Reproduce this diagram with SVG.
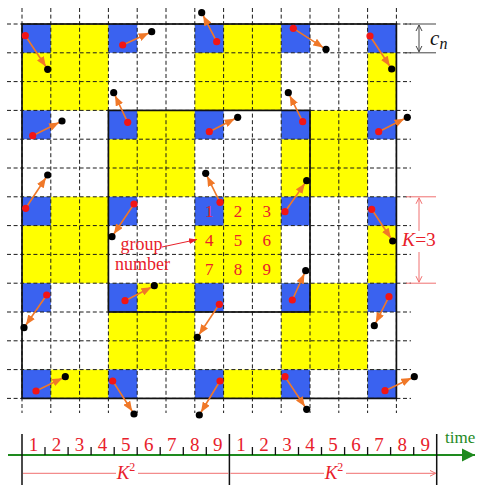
<svg xmlns="http://www.w3.org/2000/svg" width="483" height="485" viewBox="0 0 483 485">
<style>
.y{fill:#FFFF00}
.b{fill:#3A62F0}
.grid{fill:none;stroke:#1a1a1a;stroke-width:1;stroke-dasharray:4 2.6}
.frame{fill:none;stroke:#111;stroke-width:1.7}
.arr{stroke:#F07828;stroke-width:1.6;fill:none;marker-end:url(#oh)}
.rd{fill:#F21515}
.bk{fill:#000}
.rt{font-family:"Liberation Serif",serif;fill:#E8202A}
.num{font-size:17px;text-anchor:middle}
.ax{font-size:19px;text-anchor:middle}
.dimr{stroke:#F07070;stroke-width:1;fill:none}
.dimg{stroke:#444;stroke-width:1;fill:none}
.tick{stroke:#111;stroke-width:1.3}
</style>
<defs>
<marker id="oh" markerUnits="userSpaceOnUse" markerWidth="14" markerHeight="8" refX="13.3" refY="4" orient="auto"><path d="M0,0 L10,4 L0,8 z" fill="#F07828"/></marker>
<marker id="rh" markerUnits="userSpaceOnUse" markerWidth="8" markerHeight="8" refX="6" refY="4" orient="auto-start-reverse"><path d="M0,1 L6,4 L0,7" fill="none" stroke="#F07070" stroke-width="1"/></marker>
<marker id="gh" markerUnits="userSpaceOnUse" markerWidth="8" markerHeight="8" refX="6" refY="4" orient="auto-start-reverse"><path d="M0,1 L6,4 L0,7" fill="none" stroke="#444" stroke-width="1"/></marker>
<marker id="rs" markerUnits="userSpaceOnUse" markerWidth="10" markerHeight="8" refX="8" refY="4" orient="auto"><path d="M0,1 L8,4 L0,7 z" fill="#E8202A"/></marker>
<marker id="gr" markerUnits="userSpaceOnUse" markerWidth="15" markerHeight="14" refX="13" refY="7" orient="auto"><path d="M0,0.5 L13,7 L0,13.5 z" fill="#1E8A1E"/></marker>
</defs>

<g id="cells">
<rect class="y" x="22" y="24" width="86.4" height="86.4"/>
<rect class="y" x="194.8" y="24" width="86.4" height="86.4"/>
<rect class="y" x="367.6" y="24" width="28.8" height="86.4"/>
<rect class="y" x="108.4" y="110.4" width="86.4" height="86.4"/>
<rect class="y" x="281.2" y="110.4" width="86.4" height="86.4"/>
<rect class="y" x="22" y="196.8" width="86.4" height="86.4"/>
<rect class="y" x="194.8" y="196.8" width="86.4" height="86.4"/>
<rect class="y" x="367.6" y="196.8" width="28.8" height="86.4"/>
<rect class="y" x="108.4" y="283.2" width="86.4" height="86.4"/>
<rect class="y" x="281.2" y="283.2" width="86.4" height="86.4"/>
<rect class="y" x="22" y="369.6" width="86.4" height="28.8"/>
<rect class="y" x="194.8" y="369.6" width="86.4" height="28.8"/>
<rect class="y" x="367.6" y="369.6" width="28.8" height="28.8"/>
<rect class="b" x="22" y="24" width="28.8" height="28.8"/>
<rect class="b" x="108.4" y="24" width="28.8" height="28.8"/>
<rect class="b" x="194.8" y="24" width="28.8" height="28.8"/>
<rect class="b" x="281.2" y="24" width="28.8" height="28.8"/>
<rect class="b" x="367.6" y="24" width="28.8" height="28.8"/>
<rect class="b" x="22" y="110.4" width="28.8" height="28.8"/>
<rect class="b" x="108.4" y="110.4" width="28.8" height="28.8"/>
<rect class="b" x="194.8" y="110.4" width="28.8" height="28.8"/>
<rect class="b" x="281.2" y="110.4" width="28.8" height="28.8"/>
<rect class="b" x="367.6" y="110.4" width="28.8" height="28.8"/>
<rect class="b" x="22" y="196.8" width="28.8" height="28.8"/>
<rect class="b" x="108.4" y="196.8" width="28.8" height="28.8"/>
<rect class="b" x="194.8" y="196.8" width="28.8" height="28.8"/>
<rect class="b" x="281.2" y="196.8" width="28.8" height="28.8"/>
<rect class="b" x="367.6" y="196.8" width="28.8" height="28.8"/>
<rect class="b" x="22" y="283.2" width="28.8" height="28.8"/>
<rect class="b" x="108.4" y="283.2" width="28.8" height="28.8"/>
<rect class="b" x="194.8" y="283.2" width="28.8" height="28.8"/>
<rect class="b" x="281.2" y="283.2" width="28.8" height="28.8"/>
<rect class="b" x="367.6" y="283.2" width="28.8" height="28.8"/>
<rect class="b" x="22" y="369.6" width="28.8" height="28.8"/>
<rect class="b" x="108.4" y="369.6" width="28.8" height="28.8"/>
<rect class="b" x="194.8" y="369.6" width="28.8" height="28.8"/>
<rect class="b" x="281.2" y="369.6" width="28.8" height="28.8"/>
<rect class="b" x="367.6" y="369.6" width="28.8" height="28.8"/>
</g>

<g id="grid">
<path class="grid" d="M7,24H411 M7,52.8H411 M7,81.6H411 M7,110.4H411 M7,139.2H411 M7,168H411 M7,196.8H411 M7,225.6H411 M7,254.4H411 M7,283.2H411 M7,312H411 M7,340.8H411 M7,369.6H411 M7,398.4H411
M22,8V413 M50.8,8V413 M79.6,8V413 M108.4,8V413 M137.2,8V413 M166,8V413 M194.8,8V413 M223.6,8V413 M252.4,8V413 M281.2,8V413 M310,8V413 M338.8,8V413 M367.6,8V413 M396.4,8V413"/>
<rect class="frame" x="22" y="24" width="374.4" height="374.4"/>
<rect class="frame" x="108.4" y="110.4" width="201.6" height="201.6"/>
</g>

<g id="cellnumbers" class="rt num">
<text x="209.2" y="217">1</text><text x="238" y="217">2</text><text x="266.8" y="217">3</text>
<text x="209.2" y="246">4</text><text x="238" y="246">5</text><text x="266.8" y="246">6</text>
<text x="209.2" y="274.5">7</text><text x="238" y="274.5">8</text><text x="266.8" y="274.5">9</text>
</g>

<g id="connectors">
<path class="arr" d="M25.3,35.7L47.7,69.3"/>
<path class="arr" d="M122.7,45L151.7,31.7"/>
<path class="arr" d="M216.7,41.7L201.7,12.7"/>
<path class="arr" d="M293.3,28.3L326,49.3"/>
<path class="arr" d="M370,36L391.7,69"/>
<path class="arr" d="M32.7,135.7L62,121"/>
<path class="arr" d="M127.7,122.3L113.7,92.7"/>
<path class="arr" d="M209.3,131.7L237.7,117.3"/>
<path class="arr" d="M302.7,121.7L288.3,92.7"/>
<path class="arr" d="M378.7,131.7L407.3,117.3"/>
<path class="arr" d="M25.7,208.3L47.7,175"/>
<path class="arr" d="M134,204L112,236.7"/>
<path class="arr" d="M220,202.3L205.7,173.3"/>
<path class="arr" d="M285,211.7L306.7,180.7"/>
<path class="arr" d="M371.7,209.3L392.7,241"/>
<path class="arr" d="M46.7,295L24,327.7"/>
<path class="arr" d="M125,300.7L154.3,285.7"/>
<path class="arr" d="M219.3,304.3L197.3,337.3"/>
<path class="arr" d="M292.3,300L305.7,270.7"/>
<path class="arr" d="M389,296.7L374.3,325.7"/>
<path class="arr" d="M36,391L65.3,376.7"/>
<path class="arr" d="M112.7,381L134,414"/>
<path class="arr" d="M220,381L199.3,415"/>
<path class="arr" d="M285,376.7L306.7,409.3"/>
<path class="arr" d="M385,390.7L414.3,376.7"/>
<path d="M162,247L197,239.5" stroke="#E8202A" stroke-width="1" fill="none" marker-end="url(#rs)"/>
</g>

<g id="dots">
<circle class="rd" cx="25.3" cy="35.7" r="3.6"/><circle class="bk" cx="47.7" cy="69.3" r="3.6"/>
<circle class="rd" cx="122.7" cy="45" r="3.6"/><circle class="bk" cx="151.7" cy="31.7" r="3.6"/>
<circle class="rd" cx="216.7" cy="41.7" r="3.6"/><circle class="bk" cx="201.7" cy="12.7" r="3.6"/>
<circle class="rd" cx="293.3" cy="28.3" r="3.6"/><circle class="bk" cx="326" cy="49.3" r="3.6"/>
<circle class="rd" cx="370" cy="36" r="3.6"/><circle class="bk" cx="391.7" cy="69" r="3.6"/>
<circle class="rd" cx="32.7" cy="135.7" r="3.6"/><circle class="bk" cx="62" cy="121" r="3.6"/>
<circle class="rd" cx="127.7" cy="122.3" r="3.6"/><circle class="bk" cx="113.7" cy="92.7" r="3.6"/>
<circle class="rd" cx="209.3" cy="131.7" r="3.6"/><circle class="bk" cx="237.7" cy="117.3" r="3.6"/>
<circle class="rd" cx="302.7" cy="121.7" r="3.6"/><circle class="bk" cx="288.3" cy="92.7" r="3.6"/>
<circle class="rd" cx="378.7" cy="131.7" r="3.6"/><circle class="bk" cx="407.3" cy="117.3" r="3.6"/>
<circle class="rd" cx="25.7" cy="208.3" r="3.6"/><circle class="bk" cx="47.7" cy="175" r="3.6"/>
<circle class="rd" cx="134" cy="204" r="3.6"/><circle class="bk" cx="112" cy="236.7" r="3.6"/>
<circle class="rd" cx="220" cy="202.3" r="3.6"/><circle class="bk" cx="205.7" cy="173.3" r="3.6"/>
<circle class="rd" cx="285" cy="211.7" r="3.6"/><circle class="bk" cx="306.7" cy="180.7" r="3.6"/>
<circle class="rd" cx="371.7" cy="209.3" r="3.6"/><circle class="bk" cx="392.7" cy="241" r="3.6"/>
<circle class="rd" cx="46.7" cy="295" r="3.6"/><circle class="bk" cx="24" cy="327.7" r="3.6"/>
<circle class="rd" cx="125" cy="300.7" r="3.6"/><circle class="bk" cx="154.3" cy="285.7" r="3.6"/>
<circle class="rd" cx="219.3" cy="304.3" r="3.6"/><circle class="bk" cx="197.3" cy="337.3" r="3.6"/>
<circle class="rd" cx="292.3" cy="300" r="3.6"/><circle class="bk" cx="305.7" cy="270.7" r="3.6"/>
<circle class="rd" cx="389" cy="296.7" r="3.6"/><circle class="bk" cx="374.3" cy="325.7" r="3.6"/>
<circle class="rd" cx="36" cy="391" r="3.6"/><circle class="bk" cx="65.3" cy="376.7" r="3.6"/>
<circle class="rd" cx="112.7" cy="381" r="3.6"/><circle class="bk" cx="134" cy="414" r="3.6"/>
<circle class="rd" cx="220" cy="381" r="3.6"/><circle class="bk" cx="199.3" cy="415" r="3.6"/>
<circle class="rd" cx="285" cy="376.7" r="3.6"/><circle class="bk" cx="306.7" cy="409.3" r="3.6"/>
<circle class="rd" cx="385" cy="390.7" r="3.6"/><circle class="bk" cx="414.3" cy="376.7" r="3.6"/>
</g>

<g id="grouplabel" class="rt" style="font-size:18px;text-anchor:middle">
<text x="141.5" y="249.5">group</text>
<text x="142.5" y="269.5">number</text>
</g>

<g id="cn-dim">
<path class="dimg" d="M405,24H436 M405,52.8H436"/>
<path class="dimg" d="M419,25V51.8" marker-start="url(#gh)" marker-end="url(#gh)"/>
<text x="430" y="45" style="font-family:'Liberation Serif',serif;font-style:italic;font-size:21px;fill:#111">c</text>
<text x="439.5" y="48.5" style="font-family:'Liberation Serif',serif;font-style:italic;font-size:16px;fill:#111">n</text>
</g>

<g id="k-dim">
<path class="dimr" d="M406,196.8H436 M406,283.2H436"/>
<path class="dimr" d="M419,231V197.8" marker-end="url(#rh)"/>
<path class="dimr" d="M419,252V282.2" marker-end="url(#rh)"/>
<text class="rt" x="419" y="246" style="font-size:19.5px;text-anchor:middle"><tspan font-style="italic">K</tspan>=3</text>
</g>

<g id="timeline">
<path d="M8,455H475" stroke="#1E8A1E" stroke-width="2" fill="none" marker-end="url(#gr)"/>
<text x="445" y="443" style="font-family:'Liberation Serif',serif;font-size:17px;fill:#1E8A1E">time</text>
<path stroke="#111" stroke-width="1.5" d="M22,434V485 M229.4,434V485 M436.7,434V485"/>
<path class="tick" d="M45,447V455 M68.1,447V455 M91.1,447V455 M114.2,447V455 M137.2,447V455 M160.2,447V455 M183.3,447V455 M206.3,447V455
M252.4,447V455 M275.4,447V455 M298.5,447V455 M321.5,447V455 M344.6,447V455 M367.6,447V455 M390.6,447V455 M413.7,447V455"/>
<g class="rt ax">
<text x="33.5" y="451">1</text><text x="56.6" y="451">2</text><text x="79.6" y="451">3</text><text x="102.6" y="451">4</text><text x="125.7" y="451">5</text><text x="148.7" y="451">6</text><text x="171.8" y="451">7</text><text x="194.8" y="451">8</text><text x="217.8" y="451">9</text>
<text x="240.9" y="451">1</text><text x="263.9" y="451">2</text><text x="287" y="451">3</text><text x="310" y="451">4</text><text x="333" y="451">5</text><text x="356.1" y="451">6</text><text x="379.1" y="451">7</text><text x="402.2" y="451">8</text><text x="425.2" y="451">9</text>
</g>
<path class="dimr" d="M116,473.3H23 M138,473.3H228.4 M324,473.3H230.4 M346,473.3H435.7" marker-end="url(#rh)"/>
<text class="rt" x="126" y="478.5" style="font-size:19px;text-anchor:middle"><tspan font-style="italic">K</tspan><tspan font-size="12" dy="-8">2</tspan></text>
<text class="rt" x="334" y="478.5" style="font-size:19px;text-anchor:middle"><tspan font-style="italic">K</tspan><tspan font-size="12" dy="-8">2</tspan></text>
</g>
</svg>
